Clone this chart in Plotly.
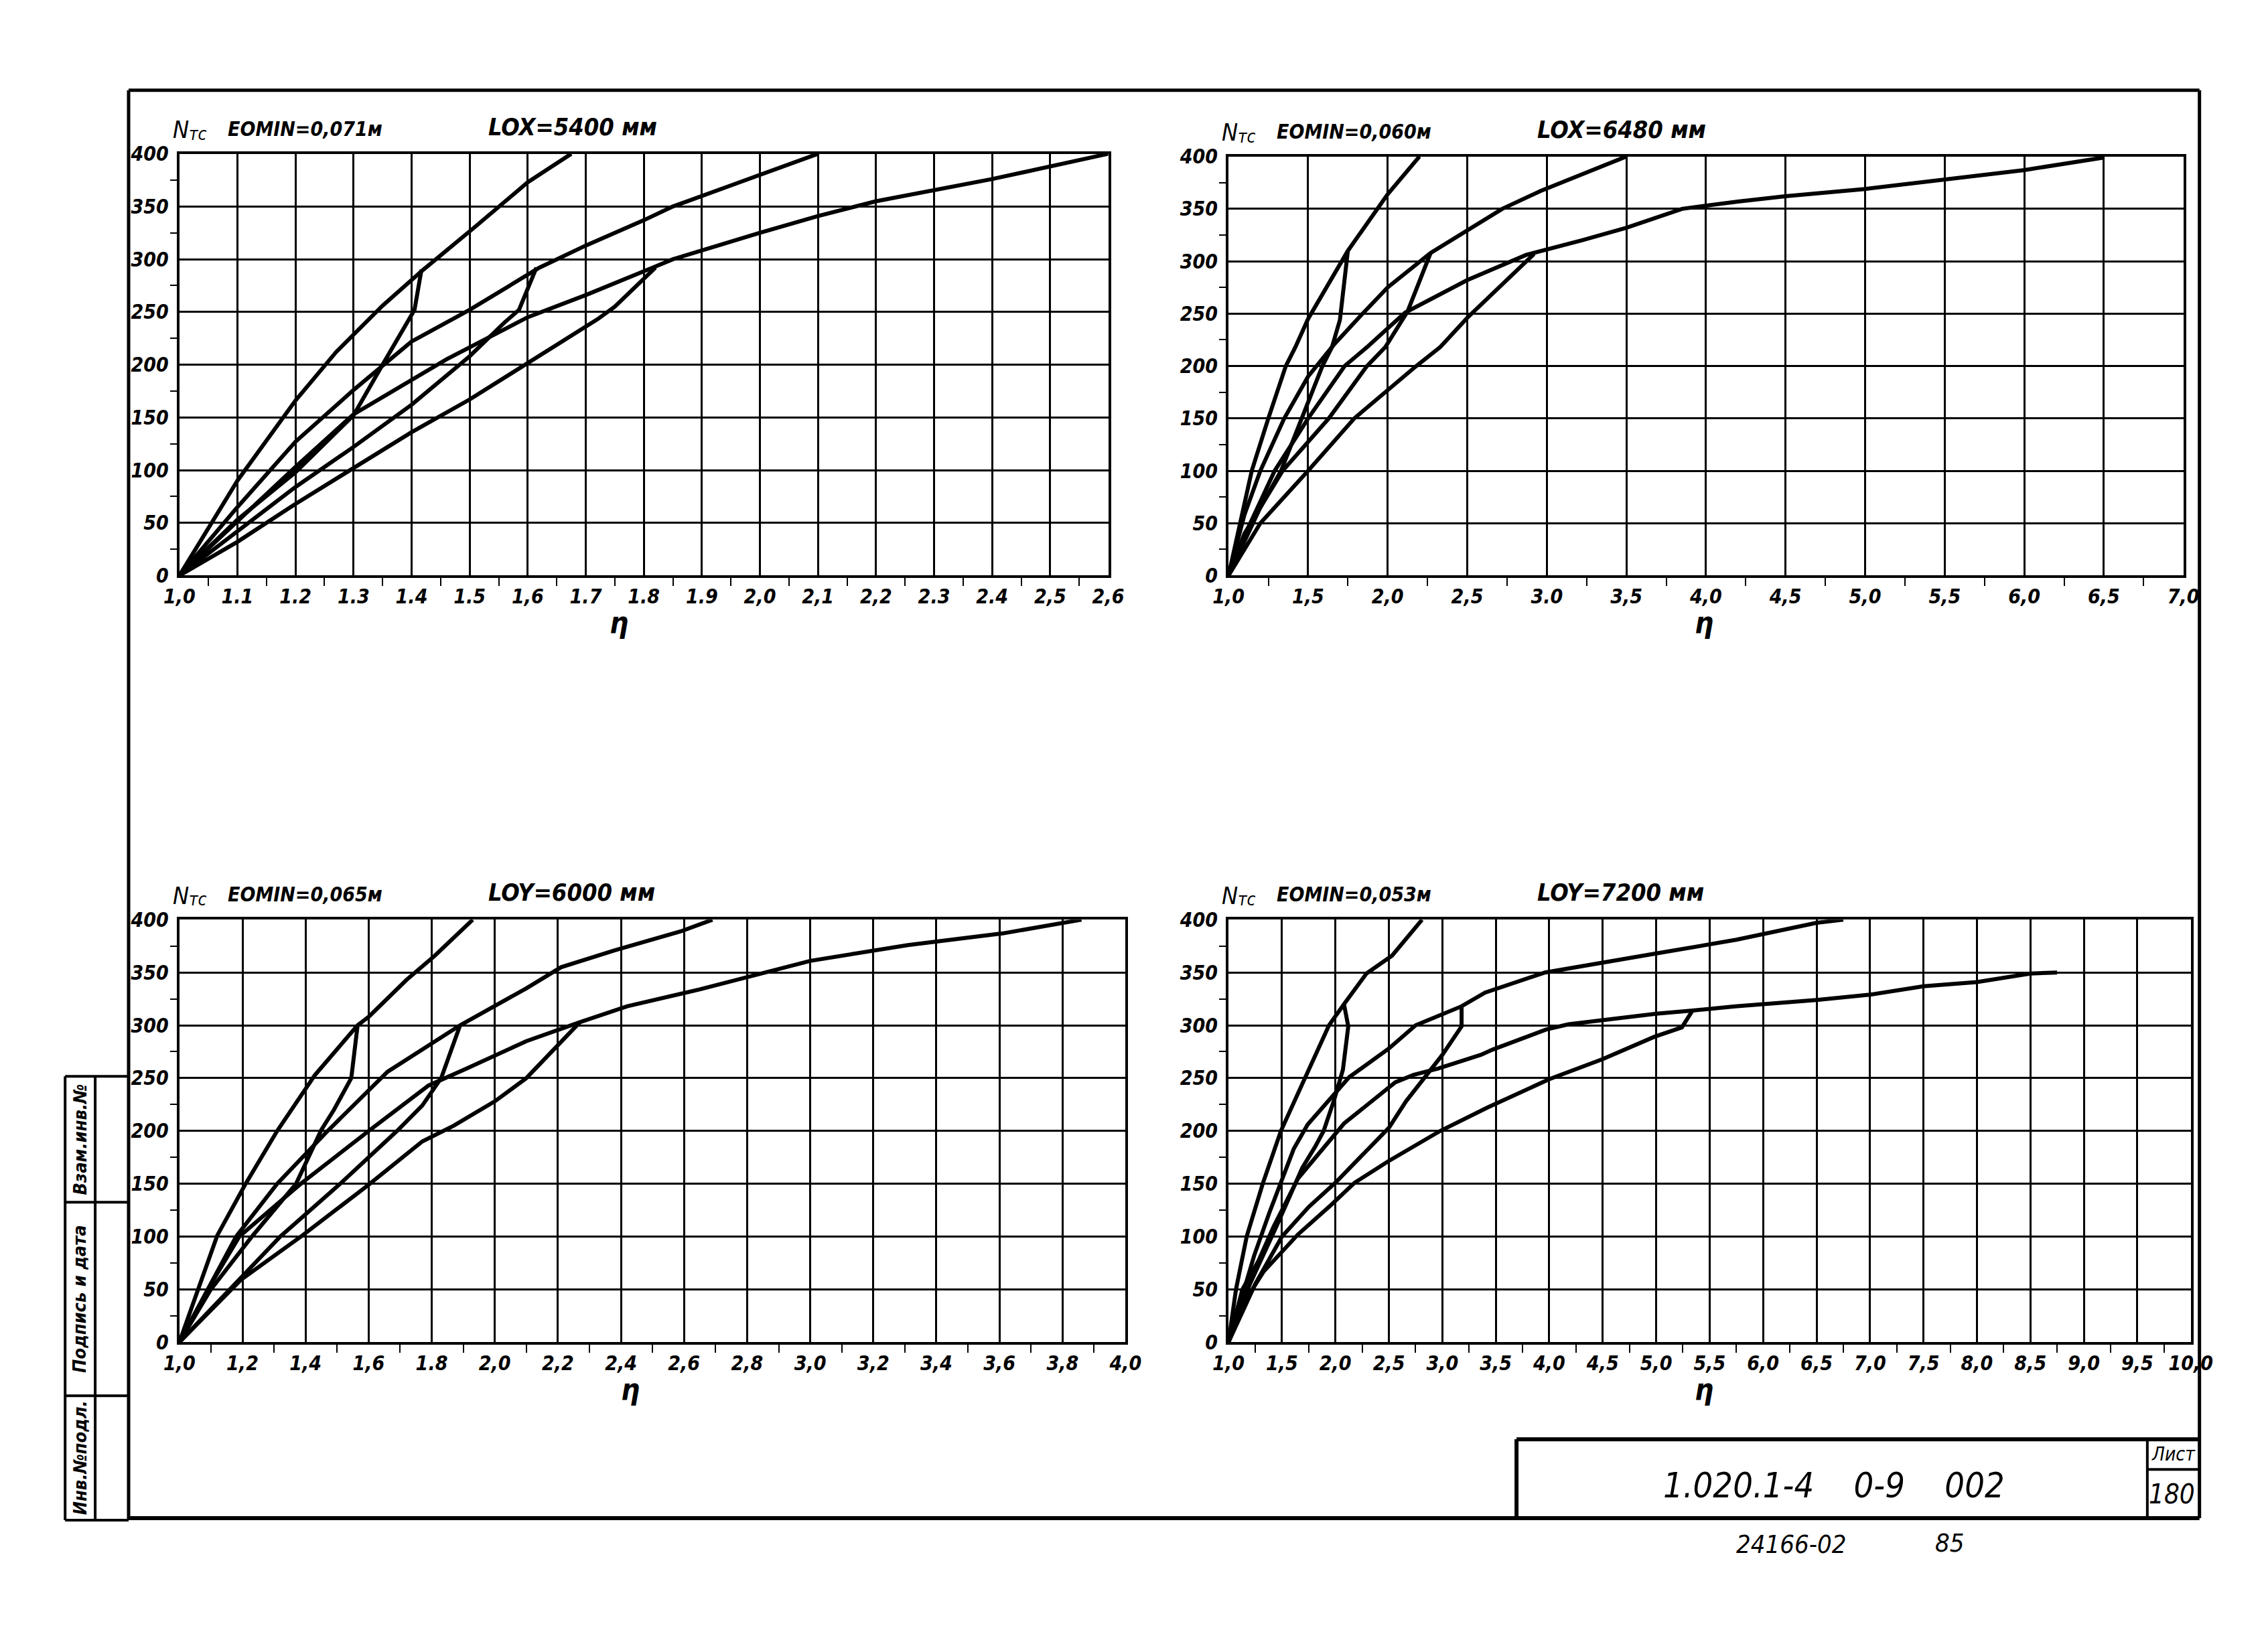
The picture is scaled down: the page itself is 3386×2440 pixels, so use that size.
import plotly.graph_objects as go

W, H = 3386, 2440

# ---------------- DATA ----------------
Y_TICKS = [0, 50, 100, 150, 200, 250, 300, 350, 400]
Y_LABELS = ["0", "50", "100", "150", "200", "250", "300", "350", "400"]

# Panel 1 : LOX = 5400 мм
P1_XTICKS = [1.0, 1.1, 1.2, 1.3, 1.4, 1.5, 1.6, 1.7, 1.8, 1.9, 2.0, 2.1, 2.2, 2.3, 2.4, 2.5, 2.6]
P1_XLABELS = ["1,0", "1.1", "1.2", "1.3", "1.4", "1.5", "1,6", "1.7", "1.8", "1.9", "2,0", "2,1", "2,2", "2.3", "2.4", "2,5", "2,6"]
P1_A_X = [1.0, 1.1, 1.2, 1.27, 1.35, 1.42, 1.51, 1.6, 1.675]
P1_A_Y = [0, 90, 166, 212, 256, 290, 331, 373, 400]
P1_B_X = [1.0, 1.1, 1.2, 1.3, 1.35, 1.395, 1.405, 1.417]
P1_B_Y = [0, 53, 98, 152, 200, 243, 252, 290]
P1_C_X = [1.0, 1.1, 1.2, 1.3, 1.4, 1.5, 1.62, 1.7, 1.8, 1.85, 1.96, 2.1]
P1_C_Y = [0, 65, 127, 176, 222, 252, 292, 313, 337, 350, 372, 400]
P1_D_X = [1.0, 1.1, 1.2, 1.3, 1.4, 1.5, 1.56, 1.585, 1.615]
P1_D_Y = [0, 42, 84, 122, 162, 208, 240, 252, 292]
P1_E_X = [1.0, 1.1, 1.2, 1.3, 1.4, 1.46, 1.6, 1.7, 1.815, 1.85, 2.0, 2.1, 2.2, 2.4, 2.6]
P1_E_Y = [0, 52, 103, 153, 186, 205, 245, 266, 292, 300, 325, 341, 355, 376, 400]
P1_F_X = [1.0, 1.1, 1.2, 1.3, 1.4, 1.5, 1.6, 1.72, 1.75, 1.82]
P1_F_Y = [0, 32, 68, 102, 136, 167, 202, 243, 255, 292]

# Panel 2 : LOX = 6480 мм
P2_XTICKS = [1.0, 1.5, 2.0, 2.5, 3.0, 3.5, 4.0, 4.5, 5.0, 5.5, 6.0, 6.5, 7.0]
P2_XLABELS = ["1,0", "1,5", "2,0", "2,5", "3.0", "3,5", "4,0", "4,5", "5,0", "5,5", "6,0", "6,5", "7,0"]
P2_A_X = [1.0, 1.07, 1.146, 1.25, 1.36, 1.42, 1.5, 1.75, 2.0, 2.2]
P2_A_Y = [0, 50, 100, 150, 200, 218, 245, 310, 364, 400]
P2_B_X = [1.0, 1.2, 1.33, 1.45, 1.59, 1.65, 1.70, 1.75]
P2_B_Y = [0, 65, 100, 145, 200, 218, 244, 310]
P2_C_X = [1.0, 1.1, 1.2, 1.35, 1.5, 1.66, 1.83, 2.0, 2.27, 2.5, 2.72, 2.96, 3.2, 3.5]
P2_C_Y = [0, 58, 100, 150, 190, 220, 248, 275, 308, 330, 350, 367, 382, 400]
P2_D_X = [1.0, 1.1, 1.34, 1.63, 1.87, 1.985, 2.125, 2.27]
P2_D_Y = [0, 40, 100, 150, 200, 218, 252, 308]
P2_E_X = [1.0, 1.1, 1.29, 1.5, 1.73, 1.87, 2.11, 2.5, 2.87, 3.0, 3.22, 3.5, 3.85, 4.2, 4.5, 5.0, 5.5, 6.0, 6.5]
P2_E_Y = [0, 38, 100, 150, 200, 218, 251, 282, 306, 311, 320, 332, 350, 357, 362, 369, 378, 387, 399]
P2_F_X = [1.0, 1.2, 1.5, 1.79, 2.18, 2.33, 2.5, 2.92]
P2_F_Y = [0, 50, 100, 150, 200, 218, 246, 307]

# Panel 3 : LOY = 6000 мм
P3_XTICKS = [1.0, 1.2, 1.4, 1.6, 1.8, 2.0, 2.2, 2.4, 2.6, 2.8, 3.0, 3.2, 3.4, 3.6, 3.8, 4.0]
P3_XLABELS = ["1,0", "1,2", "1,4", "1,6", "1.8", "2,0", "2,2", "2,4", "2,6", "2,8", "3,0", "3,2", "3,4", "3,6", "3,8", "4,0"]
P3_A_X = [1.0, 1.12, 1.21, 1.31, 1.43, 1.565, 1.6, 1.72, 1.81, 1.93]
P3_A_Y = [0, 101, 150, 200, 253, 300, 308, 343, 366, 400]
P3_B_X = [1.0, 1.1, 1.23, 1.37, 1.45, 1.49, 1.545, 1.565]
P3_B_Y = [0, 50, 100, 150, 201, 220, 250, 300]
P3_C_X = [1.0, 1.18, 1.31, 1.47, 1.66, 1.89, 2.1, 2.21, 2.38, 2.59, 2.69]
P3_C_Y = [0, 100, 150, 200, 256, 300, 335, 355, 371, 389, 400]
P3_D_X = [1.0, 1.32, 1.51, 1.69, 1.77, 1.83, 1.89]
P3_D_Y = [0, 100, 150, 200, 224, 250, 300]
P3_E_X = [1.0, 1.1, 1.19, 1.385, 1.6, 1.79, 1.91, 2.1, 2.27, 2.42, 2.65, 2.89, 3.0, 3.31, 3.61, 3.86]
P3_E_Y = [0, 55, 100, 150, 200, 243, 259, 285, 303, 318, 334, 353, 361, 376, 387, 400]
P3_F_X = [1.0, 1.195, 1.39, 1.6, 1.77, 1.87, 2.0, 2.1, 2.27]
P3_F_Y = [0, 59, 101, 149, 190, 205, 228, 250, 303]

# Panel 4 : LOY = 7200 мм
P4_XTICKS = [1.0, 1.5, 2.0, 2.5, 3.0, 3.5, 4.0, 4.5, 5.0, 5.5, 6.0, 6.5, 7.0, 7.5, 8.0, 8.5, 9.0, 9.5, 10.0]
P4_XLABELS = ["1,0", "1,5", "2,0", "2,5", "3,0", "3,5", "4,0", "4,5", "5,0", "5,5", "6,0", "6,5", "7,0", "7,5", "8,0", "8,5", "9,0", "9,5", "10,0"]
P4_A_X = [1.0, 1.07, 1.17, 1.32, 1.49, 1.72, 1.94, 2.08, 2.29, 2.53, 2.81]
P4_A_Y = [0, 50, 100, 150, 200, 250, 300, 320, 349, 366, 400]
P4_B_X = [1.0, 1.2, 1.45, 1.69, 1.81, 1.89, 1.99, 2.07, 2.12, 2.08]
P4_B_Y = [0, 55, 110, 165, 185, 200, 230, 258, 299, 320]
P4_C_X = [1.0, 1.24, 1.38, 1.5, 1.61, 1.74, 2.0, 2.13, 2.5, 2.75, 3.18, 3.4, 3.96, 4.5, 5.0, 5.75, 6.5, 6.75]
P4_C_Y = [0, 82, 122, 153, 183, 206, 236, 251, 278, 300, 318, 331, 350, 359, 368, 381, 397, 400]
P4_D_X = [1.0, 1.25, 1.5, 1.75, 2.0, 2.2, 2.5, 2.66, 2.82, 3.0, 3.18, 3.18]
P4_D_Y = [0, 55, 100, 128, 151, 172, 203, 228, 248, 272, 299, 318]
P4_E_X = [1.0, 1.13, 1.28, 1.42, 1.65, 2.08, 2.56, 2.73, 2.96, 3.36, 3.47, 3.97, 4.18, 5.0, 5.34, 5.74, 6.5, 7.0, 7.5, 8.0, 8.5, 8.75]
P4_E_Y = [0, 50, 77, 109, 155, 207, 246, 253, 259, 272, 277, 296, 301, 311, 314, 318, 324, 329, 337, 341, 349, 350]
P4_F_X = [1.0, 1.13, 1.33, 1.65, 1.96, 2.18, 2.49, 2.98, 3.42, 4.0, 4.5, 4.98, 5.24, 5.34]
P4_F_Y = [0, 35, 67, 102, 130, 151, 171, 200, 222, 249, 268, 289, 298, 314]

PANEL_TITLES = [
    ("EOMIN=0,071м", "LOX=5400 мм"),
    ("EOMIN=0,060м", "LOX=6480 мм"),
    ("EOMIN=0,065м", "LOY=6000 мм"),
    ("EOMIN=0,053м", "LOY=7200 мм"),
]
Y_TITLE_MAIN = "N"
Y_TITLE_SUB = "тс"
X_TITLE = "η"
DOC_CODE = "1.020.1-4    0-9    002"
SHEET_LABEL = "Лист"
SHEET_NO = "180"
BOTTOM_LEFT = "24166-02"
BOTTOM_RIGHT = "85"
STAMP_CELLS = ["Взам.инв.№", "Подпись и дата", "Инв.№подл."]

# ---------------- LAYOUT HELPERS ----------------
# page-pixel -> paper coordinates (compensates the small scale/offset of the capture)
OX, OY, S = 21.6, 17.3, 0.9855

def px(x):
    return (x - OX) / S / W

def py(y):
    return 1 - (y - OY) / S / H

FONT = "Liberation Sans Narrow, DejaVu Sans Condensed, DejaVu Sans, sans-serif"
TICKFONT = dict(family=FONT, size=30, color="black", style="italic", weight="bold")

# panel boxes in page pixels: (left, right, top, bottom), plus x-title centre
BOXES = [
    (266, 1656, 229, 859, 924),
    (1836, 3265, 233, 859, 2548),
    (266, 1682, 1373, 2004, 941),
    (1836, 3276, 1373, 2004, 2548),
]

fig = go.Figure()

panels = [
    (P1_XTICKS, P1_XLABELS, [(P1_A_X, P1_A_Y), (P1_B_X, P1_B_Y), (P1_C_X, P1_C_Y), (P1_D_X, P1_D_Y), (P1_E_X, P1_E_Y), (P1_F_X, P1_F_Y)]),
    (P2_XTICKS, P2_XLABELS, [(P2_A_X, P2_A_Y), (P2_B_X, P2_B_Y), (P2_C_X, P2_C_Y), (P2_D_X, P2_D_Y), (P2_E_X, P2_E_Y), (P2_F_X, P2_F_Y)]),
    (P3_XTICKS, P3_XLABELS, [(P3_A_X, P3_A_Y), (P3_B_X, P3_B_Y), (P3_C_X, P3_C_Y), (P3_D_X, P3_D_Y), (P3_E_X, P3_E_Y), (P3_F_X, P3_F_Y)]),
    (P4_XTICKS, P4_XLABELS, [(P4_A_X, P4_A_Y), (P4_B_X, P4_B_Y), (P4_C_X, P4_C_Y), (P4_D_X, P4_D_Y), (P4_E_X, P4_E_Y), (P4_F_X, P4_F_Y)]),
]

def ann(x, y, text, size, xanchor="center", yanchor="middle", bold=False, angle=0):
    f = dict(family=FONT, size=size, color="black", style="italic")
    if bold:
        f["weight"] = "bold"
    return dict(xref="paper", yref="paper", x=px(x), y=py(y), text=text, showarrow=False,
                xanchor=xanchor, yanchor=yanchor, textangle=angle, font=f)

layout_axes = {}
annotations = []
for i, ((xt, xl, curves), box) in enumerate(zip(panels, BOXES), start=1):
    sfx = "" if i == 1 else str(i)
    xa, ya = "x" + sfx, "y" + sfx
    for cx, cy in curves:
        fig.add_trace(go.Scatter(x=cx, y=cy, mode="lines", xaxis=xa, yaxis=ya,
                                 line=dict(color="black", width=6),
                                 showlegend=False, hoverinfo="skip"))
    left, right, top, bottom, xtitle = box
    xminor = [(a + b) / 2 for a, b in zip(xt[:-1], xt[1:])]
    yminor = [(a + b) / 2 for a, b in zip(Y_TICKS[:-1], Y_TICKS[1:])]
    layout_axes["xaxis" + sfx] = dict(
        domain=[px(left), px(right)], range=[xt[0], xt[-1]], anchor=ya,
        tickmode="array", tickvals=xt, ticktext=xl, ticks="",
        showgrid=True, gridcolor="black", gridwidth=2.5, zeroline=False,
        showline=True, linecolor="black", linewidth=4, mirror=True,
        tickfont=TICKFONT, ticklabelstandoff=2,
        minor=dict(tickmode="array", tickvals=xminor, ticks="outside", ticklen=12,
                   tickwidth=2, tickcolor="black", showgrid=False),
    )
    layout_axes["yaxis" + sfx] = dict(
        domain=[py(bottom), py(top)], range=[0, 400], anchor=xa,
        tickmode="array", tickvals=Y_TICKS, ticktext=Y_LABELS, ticks="",
        showgrid=True, gridcolor="black", gridwidth=2.5, zeroline=False,
        showline=True, linecolor="black", linewidth=4, mirror=True,
        tickfont=TICKFONT, ticklabelstandoff=6,
        minor=dict(tickmode="array", tickvals=yminor, ticks="outside", ticklen=10,
                   tickwidth=2, tickcolor="black", showgrid=False),
    )
    t1, t2 = PANEL_TITLES[i - 1]
    annotations += [
        ann(left - 12, top - 36, Y_TITLE_MAIN, 36, xanchor="left"),
        ann(left + 12, top - 30, Y_TITLE_SUB, 26, xanchor="left"),
        ann(left + 70, top - 18, t1, 30, xanchor="left", yanchor="bottom", bold=True),
        ann(left + 460, top - 18, t2, 36, xanchor="left", yanchor="bottom", bold=True),
        ann(xtitle, bottom + 70, X_TITLE, 44, bold=True),
    ]

# title block texts
annotations += [
    ann(2742, 2218, DOC_CODE, 52),
    ann(3250, 2171, SHEET_LABEL, 28),
    ann(3248, 2231, SHEET_NO, 40),
    ann(2678, 2306, BOTTOM_LEFT, 38),
    ann(2915, 2304, BOTTOM_RIGHT, 38),
]

# stamp strip texts (rotated)
STAMP_Y = [(1607, 1795), (1795, 2084), (2084, 2270)]
for txt, (y0, y1) in zip(STAMP_CELLS, STAMP_Y):
    annotations.append(ann(117, (y0 + y1) / 2, txt, 27, bold=True, angle=-90))

def line(x0, y0, x1, y1, w=5):
    return dict(type="line", xref="paper", yref="paper", x0=px(x0), y0=py(y0), x1=px(x1), y1=py(y1),
                line=dict(color="black", width=w))

shapes = [
    # outer frame
    line(190, 134, 3289, 134), line(3289, 134, 3289, 2267),
    line(190, 2267, 3289, 2267, 6), line(190, 134, 190, 2270),
    # title block
    line(2267, 2149, 3289, 2149, 6), line(2267, 2149, 2267, 2267, 6),
    line(3211, 2149, 3211, 2267, 4), line(3211, 2194, 3289, 2194, 4),
    # stamp strip
    line(95, 1607, 190, 1607, 4), line(95, 1607, 95, 2270, 4), line(95, 2270, 190, 2270, 4),
    line(140, 1607, 140, 2270, 4), line(95, 1795, 190, 1795, 4), line(95, 2084, 190, 2084, 4),
]

fig.update_layout(
    width=W, height=H, margin=dict(l=0, r=0, t=0, b=0),
    paper_bgcolor="white", plot_bgcolor="white",
    showlegend=False, annotations=annotations, shapes=shapes,
    **layout_axes,
)

fig.write_html("out.html", config={"displayModeBar": False})
